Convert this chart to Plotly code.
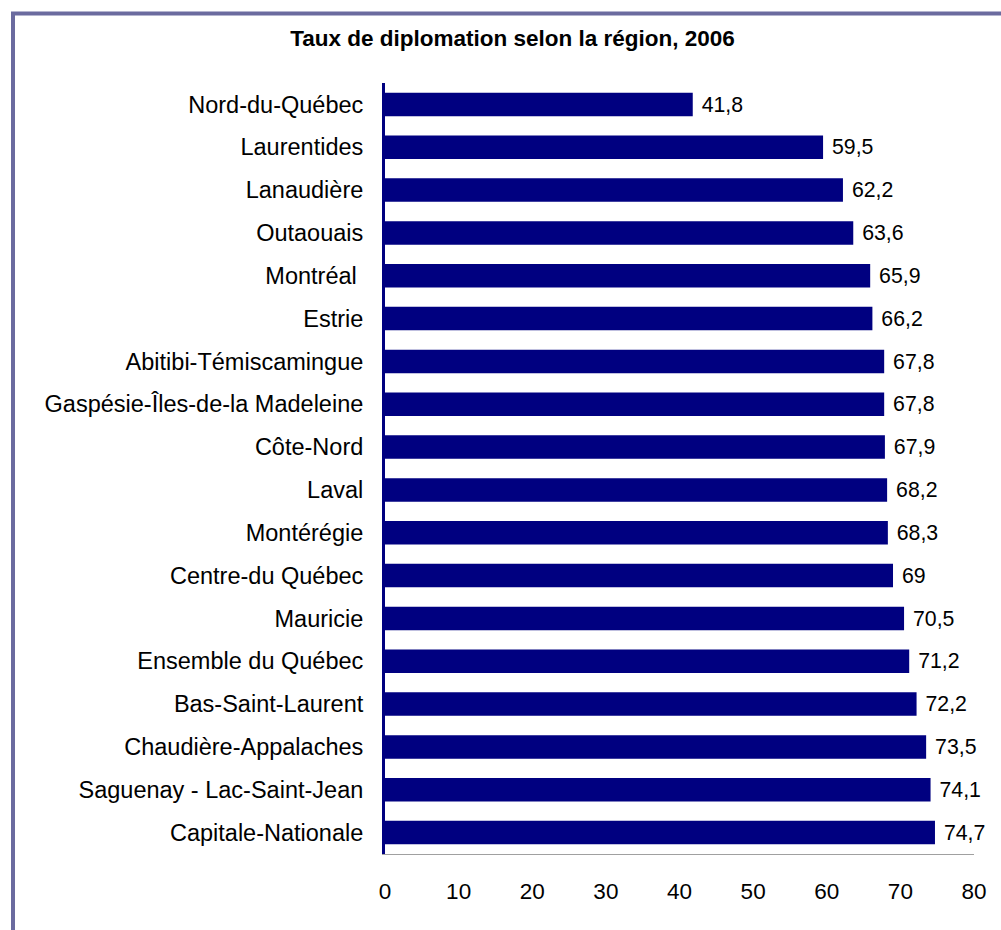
import plotly.graph_objects as go

regions = [
    "Nord-du-Québec", "Laurentides", "Lanaudière", "Outaouais", "Montréal ",
    "Estrie", "Abitibi-Témiscamingue", "Gaspésie-Îles-de-la Madeleine", "Côte-Nord",
    "Laval", "Montérégie", "Centre-du Québec", "Mauricie", "Ensemble du Québec",
    "Bas-Saint-Laurent", "Chaudière-Appalaches", "Saguenay - Lac-Saint-Jean",
    "Capitale-Nationale",
]
rates = [41.8, 59.5, 62.2, 63.6, 65.9, 66.2, 67.8, 67.8, 67.9, 68.2, 68.3, 69,
         70.5, 71.2, 72.2, 73.5, 74.1, 74.7]
x_ticks = [0, 10, 20, 30, 40, 50, 60, 70, 80]

labels = ["\u00a0" + ("%g" % v).replace(".", ",") for v in rates]

FONT = "Liberation Sans, Arial, sans-serif"
NAVY = "#000080"

fig = go.Figure(go.Bar(
    x=rates, y=regions, orientation="h",
    marker=dict(color=NAVY, line=dict(width=0)),
    text=labels, textposition="outside", cliponaxis=False,
    textfont=dict(family=FONT, size=23.5, color="#000000"),
    hoverinfo="x+y",
))

W, H = 1001, 930
L, R, T, B = 385, 27, 83, 76
pw, ph = W - L - R, H - T - B

def px_x(p):
    return (p - L) / pw

def px_y(p):
    return (H - B - p) / ph

fig.update_layout(
    width=W, height=H,
    margin=dict(l=L, r=R, t=T, b=B, pad=0),
    paper_bgcolor="white", plot_bgcolor="white",
    showlegend=False,
    bargap=0.45,
    font=dict(family=FONT, size=22, color="#000000"),
    title=dict(
        text="<b>Taux de diplomation selon la région, 2006</b>",
        font=dict(family=FONT, size=22.5, color="#000000"),
        x=0.512, xref="container", xanchor="center",
        y=1 - 38 / H, yref="container", yanchor="middle",
    ),
    xaxis=dict(
        range=[0, 80], tickvals=x_ticks, ticks="", showgrid=False,
        zeroline=False, showline=True, linecolor="#a0a0a0", linewidth=1,
        tickfont=dict(family=FONT, size=22.5, color="#000000"),
        ticklabelstandoff=17, fixedrange=True,
    ),
    yaxis=dict(
        autorange="reversed", showgrid=False, zeroline=False, ticks="",
        showline=True, linecolor=NAVY, linewidth=3,
        tickfont=dict(family=FONT, size=23.5, color="#000000"),
        ticklabelstandoff=14, fixedrange=True,
    ),
    shapes=[dict(
        type="rect", xref="paper", yref="paper",
        x0=px_x(13), x1=px_x(1012), y0=px_y(942), y1=px_y(13.5),
        line=dict(color="#6b6b9f", width=4), fillcolor="rgba(0,0,0,0)",
        layer="below",
    )],
)

fig.write_html(
    "out.html",
    config={"displayModeBar": False},
    post_script="document.body.style.margin='0';document.body.style.overflow='hidden';",
)
